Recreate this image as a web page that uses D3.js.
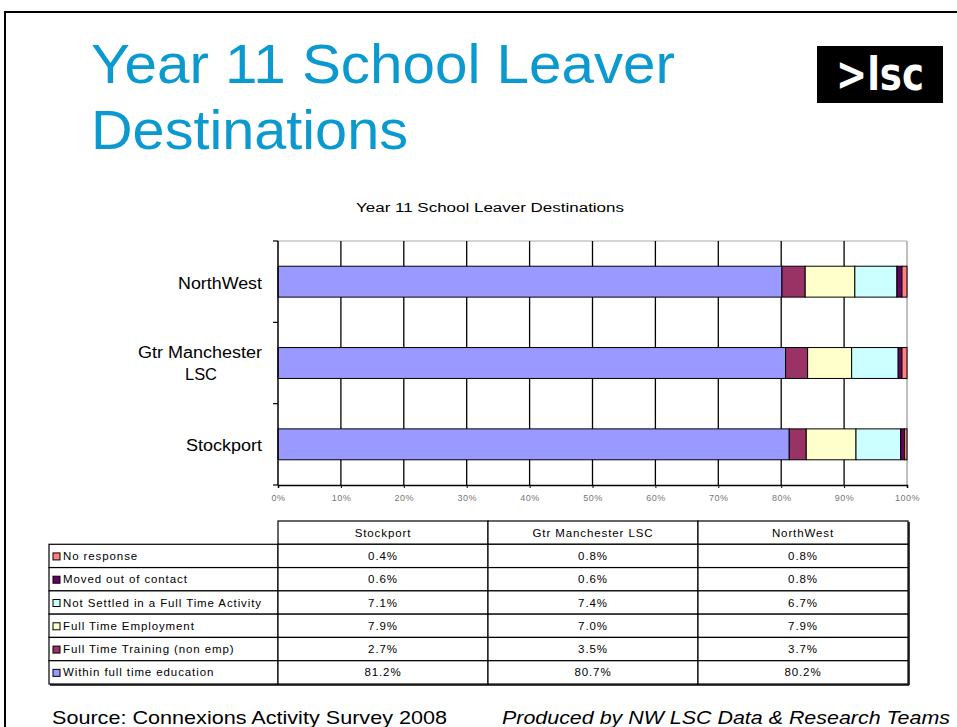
<!DOCTYPE html>
<html><head><meta charset="utf-8">
<script src="https://cdn.jsdelivr.net/npm/d3@7"></script>
<style>
html,body{margin:0;padding:0;background:#fff;}
svg{display:block;font-family:"Liberation Sans",Arial,sans-serif;}
</style></head>
<body>
<svg id="c" width="957" height="727"></svg>
<script>
// ---- data ----
const categories = ["Stockport", "Gtr Manchester LSC", "NorthWest"];
const seriesNames = ["Within full time education", "Full Time Training (non emp)", "Full Time Employment",
  "Not Settled in a Full Time Activity", "Moved out of contact", "No response"];
const withinEducation = [81.2, 80.7, 80.2];
const ftTraining = [2.7, 3.5, 3.7];
const ftEmployment = [7.9, 7.0, 7.9];
const notSettled = [7.1, 7.4, 6.7];
const movedOut = [0.6, 0.6, 0.8];
const noResponse = [0.4, 0.8, 0.8];
const seriesColors = ["#9999ff", "#993366", "#ffffcc", "#ccffff", "#660066", "#ff8080"];
const xTicks = [0, 0.1, 0.2, 0.3, 0.4, 0.5, 0.6, 0.7, 0.8, 0.9, 1];
const tableRowLabels = ["No response", "Moved out of contact", "Not Settled in a Full Time Activity",
  "Full Time Employment", "Full Time Training (non emp)", "Within full time education"];

const seriesValues = [withinEducation, ftTraining, ftEmployment, notSettled, movedOut, noResponse];
const rows = categories.map((c, i) => {
  const o = {cat: c};
  seriesNames.forEach((s, j) => o[s] = seriesValues[j][i]);
  return o;
});

const svg = d3.select("#c");

// frame
svg.append("line").attr("x1", 5).attr("x2", 957).attr("y1", 12).attr("y2", 12).attr("stroke", "#000").attr("stroke-width", 2);
svg.append("line").attr("x1", 5).attr("x2", 5).attr("y1", 11).attr("y2", 727).attr("stroke", "#000").attr("stroke-width", 2);

// headline
svg.append("text").attr("x", 91).attr("y", 83).attr("fill", "#0a9ad0").style("font-size", "56px")
  .attr("textLength", 584).attr("lengthAdjust", "spacingAndGlyphs").text("Year 11 School Leaver");
svg.append("text").attr("x", 91).attr("y", 149).attr("fill", "#0a9ad0").style("font-size", "56px")
  .attr("textLength", 317).attr("lengthAdjust", "spacingAndGlyphs").text("Destinations");

// logo
svg.append("rect").attr("x", 817).attr("y", 46).attr("width", 126).attr("height", 57).attr("fill", "#000");
svg.append("text").attr("x", 880).attr("y", 90).attr("text-anchor", "middle").attr("fill", "#fff")
  .style("font-size", "46px").style("font-family", "'DejaVu Sans',sans-serif").style("font-weight", "bold")
  .attr("textLength", 88).attr("lengthAdjust", "spacingAndGlyphs").text(">lsc");

// chart title
svg.append("text").attr("x", 490).attr("y", 212).attr("text-anchor", "middle").attr("fill", "#000")
  .style("font-size", "12px").attr("textLength", 268).attr("lengthAdjust", "spacingAndGlyphs")
  .text("Year 11 School Leaver Destinations");

// scales
const x = d3.scaleLinear().domain([0, 1]).range([278, 907]);
const y = d3.scaleBand().domain(["NorthWest", "Gtr Manchester LSC", "Stockport"]).range([241, 485])
  .paddingInner(0.62).paddingOuter(0.31);

// plot border (gray top/right)
svg.append("line").attr("x1", x(0)).attr("x2", x(1)).attr("y1", 241).attr("y2", 241).attr("stroke", "#aaa").attr("stroke-width", 1);
svg.append("line").attr("x1", x(1)).attr("x2", x(1)).attr("y1", 241).attr("y2", 485).attr("stroke", "#aaa").attr("stroke-width", 1.5);

// gridlines
svg.append("g").selectAll("line").data(xTicks.filter(t => t > 0 && t < 1)).join("line")
  .attr("x1", d => x(d)).attr("x2", d => x(d)).attr("y1", 241).attr("y2", 485)
  .attr("stroke", "#000").attr("stroke-width", 1.3);

// stacked bars
const stack = d3.stack().keys(seriesNames).offset(d3.stackOffsetExpand);
const stacked = stack(rows);
svg.append("g").selectAll("g").data(stacked).join("g")
  .attr("fill", (d, i) => seriesColors[i])
  .selectAll("rect").data(d => d).join("rect")
  .attr("x", d => x(d[0])).attr("width", d => x(d[1]) - x(d[0]))
  .attr("y", d => y(d.data.cat)).attr("height", y.bandwidth())
  .attr("stroke", "#000").attr("stroke-width", 1);

// x axis
const xAxis = svg.append("g").attr("transform", "translate(0,485)")
  .call(d3.axisBottom(x).tickValues(xTicks).tickFormat(d3.format(".0%")).tickSize(3).tickPadding(7));
xAxis.select(".domain").attr("stroke", "#000").attr("stroke-width", 1.5);
xAxis.selectAll(".tick line").attr("stroke", "#000");
xAxis.selectAll("text").attr("fill", "#777").style("font-size", "9px").style("letter-spacing", "0.5px")
  .style("font-family", "'Liberation Sans',Arial,sans-serif");

// y axis ticks at band boundaries
const yBounds = [241, 241 + y.step(), 241 + 2 * y.step(), 485];
svg.append("line").attr("x1", 278).attr("x2", 278).attr("y1", 241).attr("y2", 485).attr("stroke", "#000").attr("stroke-width", 1.5);
svg.append("g").selectAll("line").data(yBounds).join("line")
  .attr("x1", 273).attr("x2", 278).attr("y1", d => d).attr("y2", d => d).attr("stroke", "#000").attr("stroke-width", 1.2);

// category labels
const catLabels = {"NorthWest": [["NorthWest", 84]], "Gtr Manchester LSC": [["Gtr Manchester", 124], ["LSC", 32]], "Stockport": [["Stockport", 76]]};
y.domain().forEach(c => {
  const lines = catLabels[c];
  const cy = y(c) + y.bandwidth() / 2;
  if (lines.length === 1) {
    svg.append("text").attr("x", 262).attr("y", cy + 7).attr("text-anchor", "end")
      .style("font-size", "16px").attr("textLength", lines[0][1]).attr("lengthAdjust", "spacingAndGlyphs").text(lines[0][0]);
  } else {
    svg.append("text").attr("x", 200).attr("y", cy - 5).attr("text-anchor", "middle").style("font-size", "16px")
      .attr("textLength", lines[0][1]).attr("lengthAdjust", "spacingAndGlyphs").text(lines[0][0]);
    svg.append("text").attr("x", 201).attr("y", cy + 17).attr("text-anchor", "middle").style("font-size", "16px")
      .attr("textLength", lines[1][1]).attr("lengthAdjust", "spacingAndGlyphs").text(lines[1][0]);
  }
});

// data table
const tableCols = ["Stockport", "Gtr Manchester LSC", "NorthWest"];
const colX = d3.scaleBand().domain(tableCols).range([278, 908]);
const rowY = d3.scaleBand().domain(["header"].concat(tableRowLabels)).range([521, 684]);
const tg = svg.append("g").style("font-size", "11.5px").style("letter-spacing", "0.9px");
// header cells
tg.selectAll("rect.h").data(tableCols).join("rect").attr("class", "h")
  .attr("x", d => colX(d)).attr("y", rowY("header")).attr("width", colX.bandwidth()).attr("height", rowY.bandwidth())
  .attr("fill", "#fff").attr("stroke", "#000").attr("stroke-width", 1.2);
tg.selectAll("text.h").data(tableCols).join("text").attr("class", "h")
  .attr("x", d => colX(d) + colX.bandwidth() / 2).attr("y", rowY("header") + rowY.bandwidth() / 2 + 4)
  .attr("text-anchor", "middle").text(d => d);
// body rows
const tableVals = tableRowLabels.map((r, ri) => seriesValues[seriesValues.length - 1 - ri]);
tableRowLabels.forEach((r, ri) => {
  const yy = rowY(r);
  tg.append("rect").attr("x", 49).attr("y", yy).attr("width", 278 - 49).attr("height", rowY.bandwidth())
    .attr("fill", "#fff").attr("stroke", "#000").attr("stroke-width", 1.2);
  const colorIdx = seriesNames.length - 1 - ri;
  tg.append("rect").attr("x", 53).attr("y", yy + rowY.bandwidth() / 2 - 3).attr("width", 7).attr("height", 7)
    .attr("fill", seriesColors[colorIdx]).attr("stroke", "#000").attr("stroke-width", 1);
  tg.append("text").attr("x", 63).attr("y", yy + rowY.bandwidth() / 2 + 4).text(r);
  tableCols.forEach((c, ci) => {
    tg.append("rect").attr("x", colX(c)).attr("y", yy).attr("width", colX.bandwidth()).attr("height", rowY.bandwidth())
      .attr("fill", "#fff").attr("stroke", "#000").attr("stroke-width", 1.2);
    const v = tableVals[ri][categories.indexOf(c)];
    tg.append("text").attr("x", colX(c) + colX.bandwidth() / 2).attr("y", yy + rowY.bandwidth() / 2 + 4)
      .attr("text-anchor", "middle").text(v.toFixed(1) + "%");
  });
});
// shadow on right/bottom
tg.append("line").attr("x1", 909).attr("x2", 909).attr("y1", 522).attr("y2", 685).attr("stroke", "#000").attr("stroke-width", 1.5);
tg.append("line").attr("x1", 50).attr("x2", 909).attr("y1", 685).attr("y2", 685).attr("stroke", "#000").attr("stroke-width", 1.5);

// footer
svg.append("text").attr("x", 52).attr("y", 724).style("font-size", "19px").attr("fill", "#000")
  .attr("textLength", 395).attr("lengthAdjust", "spacingAndGlyphs")
  .text("Source: Connexions Activity Survey 2008");
svg.append("text").attr("x", 502).attr("y", 724).style("font-size", "19px").style("font-style", "italic").attr("fill", "#000")
  .attr("textLength", 448).attr("lengthAdjust", "spacingAndGlyphs")
  .text("Produced by NW LSC Data & Research Teams");
</script>
</body></html>
